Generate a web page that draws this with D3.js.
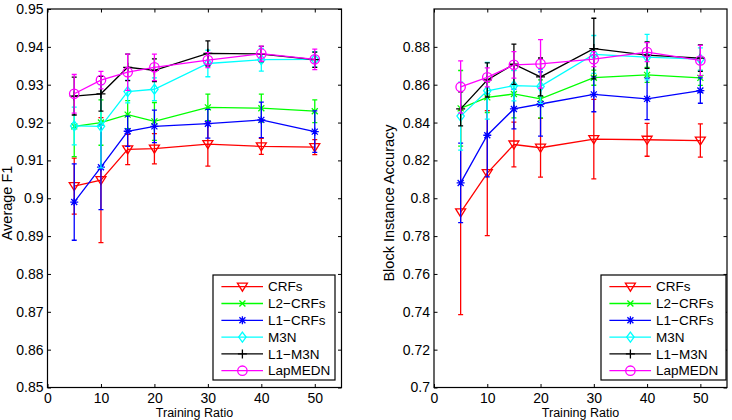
<!DOCTYPE html>
<html>
<head>
<meta charset="utf-8">
<script src="https://cdn.jsdelivr.net/npm/d3@7"></script>
<style>
  body { margin: 0; background: #fff; }
  svg { display: block; }
  text { font-family: "Liberation Sans", Arial, sans-serif; fill: #000; }
</style>
</head>
<body>
<div id="chart"></div>
<script>
// training ratios (x values) and tick labels
const ratios = [5, 10, 15, 20, 30, 40, 50];
const xTicks = [0, 10, 20, 30, 40, 50];
const yTicksF1 = [0.85, 0.86, 0.87, 0.88, 0.89, 0.9, 0.91, 0.92, 0.93, 0.94, 0.95];
const yTicksAcc = [0.7, 0.72, 0.74, 0.76, 0.78, 0.8, 0.82, 0.84, 0.86, 0.88];

const methods = ["CRFs", "L2\u2212CRFs", "L1\u2212CRFs", "M3N", "L1\u2212M3N", "LapMEDN"];
const colors = ["#ff0000", "#00ff00", "#0000ff", "#00ffff", "#000000", "#ff00ff"];
const markers = ["tri", "x", "star", "diamond", "plus", "circle"];

// left panel: Average F1 (mean, std)
const f1_CRFs      = [0.9032, 0.9048, 0.9129, 0.9131, 0.9143, 0.9137, 0.9135];
const f1_CRFs_err  = [0.0074, 0.0165, 0.0040, 0.0040, 0.0058, 0.0021, 0.0020];
const f1_L2CRFs     = [0.9190, 0.9200, 0.9221, 0.9203, 0.9240, 0.9238, 0.9230];
const f1_L2CRFs_err = [0.0080, 0.0060, 0.0037, 0.0050, 0.0035, 0.0037, 0.0030];
const f1_L1CRFs     = [0.8990, 0.9082, 0.9177, 0.9190, 0.9197, 0.9207, 0.9176];
const f1_L1CRFs_err = [0.0101, 0.0112, 0.0040, 0.0043, 0.0038, 0.0047, 0.0055];
const f1_M3N      = [0.9191, 0.9190, 0.9282, 0.9288, 0.9356, 0.9366, 0.9367];
const f1_M3N_err  = [0.0050, 0.0110, 0.0030, 0.0030, 0.0035, 0.0030, 0.0020];
const f1_L1M3N     = [0.9270, 0.9276, 0.9346, 0.9338, 0.9383, 0.9381, 0.9366];
const f1_L1M3N_err = [0.0050, 0.0046, 0.0035, 0.0030, 0.0033, 0.0020, 0.0020];
const f1_Lap      = [0.9276, 0.9312, 0.9333, 0.9346, 0.9365, 0.9382, 0.9367];
const f1_Lap_err  = [0.0051, 0.0023, 0.0048, 0.0035, 0.0020, 0.0020, 0.0027];

// right panel: Block Instance Accuracy (mean, std)
const acc_CRFs      = [0.7925, 0.8133, 0.8284, 0.8267, 0.8312, 0.8309, 0.8305];
const acc_CRFs_err  = [0.0540, 0.0330, 0.0118, 0.0155, 0.0210, 0.0087, 0.0088];
const acc_L2CRFs     = [0.8475, 0.8533, 0.8551, 0.8525, 0.8637, 0.8652, 0.8636];
const acc_L2CRFs_err = [0.0200, 0.0080, 0.0126, 0.0100, 0.0040, 0.0040, 0.0040];
const acc_L1CRFs     = [0.8081, 0.8333, 0.8472, 0.8498, 0.8549, 0.8525, 0.8569];
const acc_L1CRFs_err = [0.0210, 0.0220, 0.0105, 0.0170, 0.0092, 0.0110, 0.0067];
const acc_M3N      = [0.8434, 0.8568, 0.8595, 0.8591, 0.8760, 0.8746, 0.8735];
const acc_M3N_err  = [0.0180, 0.0150, 0.0080, 0.0090, 0.0100, 0.0120, 0.0060];
const acc_L1M3N     = [0.8472, 0.8625, 0.8708, 0.8641, 0.8791, 0.8756, 0.8740];
const acc_L1M3N_err = [0.0090, 0.0090, 0.0106, 0.0100, 0.0160, 0.0070, 0.0070];
const acc_Lap      = [0.8588, 0.8639, 0.8705, 0.8710, 0.8735, 0.8772, 0.8728];
const acc_Lap_err  = [0.0138, 0.0050, 0.0070, 0.0128, 0.0040, 0.0050, 0.0080];

const W = 732, H = 420;
const svg = d3.select("#chart").append("svg").attr("width", W).attr("height", H);

const panels = [
  { id: "p1", left: 47.5, right: 341.5, top: 9, bottom: 387.5, yDomain: [0.85, 0.95], yTicks: yTicksF1,
    ylabel: "Average F1", ylabelX: 12, legendRight: 335, legendW: 122,
    means: [f1_CRFs, f1_L2CRFs, f1_L1CRFs, f1_M3N, f1_L1M3N, f1_Lap],
    errs: [f1_CRFs_err, f1_L2CRFs_err, f1_L1CRFs_err, f1_M3N_err, f1_L1M3N_err, f1_Lap_err] },
  { id: "p2", left: 434, right: 727, top: 9, bottom: 387.5, yDomain: [0.7, 0.9], yTicks: yTicksAcc,
    ylabel: "Block Instance Accuracy", ylabelX: 394, legendRight: 726, legendW: 125,
    means: [acc_CRFs, acc_L2CRFs, acc_L1CRFs, acc_M3N, acc_L1M3N, acc_Lap],
    errs: [acc_CRFs_err, acc_L2CRFs_err, acc_L1CRFs_err, acc_M3N_err, acc_L1M3N_err, acc_Lap_err] }
];

function markerPath(kind) {
  switch (kind) {
    case "tri": return "M-5,-3.5L5,-3.5L0,4.5Z";
    case "x": return "M-3,-3L3,3M-3,3L3,-3";
    case "star": return "M-4,0H4M0,-4V4M-3,-3L3,3M-3,3L3,-3";
    case "diamond": return "M0,-5L3.7,0L0,5L-3.7,0Z";
    case "plus": return "M-4.5,0H4.5M0,-4.5V4.5";
    case "circle": return "M4.7,0A4.7,4.7 0 1,1 -4.7,0A4.7,4.7 0 1,1 4.7,0Z";
  }
}

const fmt = d => String(+d.toFixed(2));
const tick = 3.5;

panels.forEach(p => {
  const x = d3.scaleLinear().domain([0, 55]).range([p.left, p.right]);
  const y = d3.scaleLinear().domain(p.yDomain).range([p.bottom, p.top]);
  const g = svg.append("g");

  svg.append("clipPath").attr("id", "clip-" + p.id)
    .append("rect").attr("x", p.left).attr("y", p.top)
    .attr("width", p.right - p.left).attr("height", p.bottom - p.top);

  // axes (ticks inside, mirrored on top/right)
  g.append("g").attr("transform", "translate(0," + p.bottom + ")")
    .call(d3.axisBottom(x).tickValues(xTicks).tickSizeInner(-tick).tickSizeOuter(0).tickPadding(5.5).tickFormat(d3.format("d")));
  g.append("g").attr("transform", "translate(0," + p.top + ")")
    .call(d3.axisTop(x).tickValues(xTicks).tickSizeInner(-tick).tickSizeOuter(0).tickFormat(""));
  g.append("g").attr("transform", "translate(" + p.left + ",0)")
    .call(d3.axisLeft(y).tickValues(p.yTicks).tickSizeInner(-tick).tickSizeOuter(0).tickPadding(4).tickFormat(fmt));
  g.append("g").attr("transform", "translate(" + p.right + ",0)")
    .call(d3.axisRight(y).tickValues(p.yTicks).tickSizeInner(-tick).tickSizeOuter(0).tickFormat(""));
  g.selectAll(".domain").remove();
  g.selectAll(".tick line").attr("stroke", "#000").attr("stroke-width", 1);
  g.selectAll(".tick text").style("font-size", "14px").style("font-family", "'Liberation Sans', Arial, sans-serif");

  g.append("rect").attr("x", p.left).attr("y", p.top)
    .attr("width", p.right - p.left).attr("height", p.bottom - p.top)
    .attr("fill", "none").attr("stroke", "#000").attr("stroke-width", 1.2);

  // axis labels
  g.append("text").attr("x", (p.left + p.right) / 2).attr("y", 417.2)
    .attr("text-anchor", "middle").style("font-size", "12.5px").text("Training Ratio");
  g.append("text").attr("transform", "translate(" + p.ylabelX + ",203) rotate(-90)")
    .attr("text-anchor", "middle").style("font-size", "14.5px").text(p.ylabel);

  // series
  const plot = g.append("g").attr("clip-path", "url(#clip-" + p.id + ")");
  const line = d3.line().x(d => x(d.r)).y(d => y(d.m));
  methods.forEach((name, i) => {
    const pts = ratios.map((r, k) => ({ r: r, m: p.means[i][k], e: p.errs[i][k] }));
    const s = plot.append("g").attr("stroke", colors[i]).attr("fill", "none").attr("stroke-width", 1.3);
    s.selectAll("path.err").data(pts).enter().append("path").attr("class", "err")
      .attr("d", d => {
        const xx = x(d.r), y1 = y(d.m - d.e), y2 = y(d.m + d.e);
        return "M" + xx + "," + y1 + "V" + y2 + "M" + (xx - 2.5) + "," + y1 + "H" + (xx + 2.5) +
               "M" + (xx - 2.5) + "," + y2 + "H" + (xx + 2.5);
      });
    s.append("path").datum(pts).attr("d", line);
    s.selectAll("path.mk").data(pts).enter().append("path").attr("class", "mk")
      .attr("transform", d => "translate(" + x(d.r) + "," + y(d.m) + ")")
      .attr("d", markerPath(markers[i]));
  });

  // legend
  const lx = p.legendRight - p.legendW, ly = 275;
  const lg = g.append("g");
  lg.append("rect").attr("x", lx).attr("y", ly).attr("width", p.legendW).attr("height", 105)
    .attr("fill", "#fff").attr("stroke", "#000").attr("stroke-width", 1.2);
  methods.forEach((name, i) => {
    const cy = ly + 11.7 + i * 16.8;
    const row = lg.append("g");
    row.append("line").attr("x1", lx + 8.4).attr("x2", lx + 50).attr("y1", cy).attr("y2", cy)
      .attr("stroke", colors[i]).attr("stroke-width", 1.3);
    row.append("path").attr("transform", "translate(" + (lx + 29.4) + "," + cy + ")")
      .attr("d", markerPath(markers[i])).attr("fill", "none").attr("stroke", colors[i]).attr("stroke-width", 1.3);
    row.append("text").attr("x", lx + 55).attr("y", cy).attr("dy", "0.35em")
      .style("font-size", "13.5px").text(name);
  });
});
</script>
</body>
</html>
